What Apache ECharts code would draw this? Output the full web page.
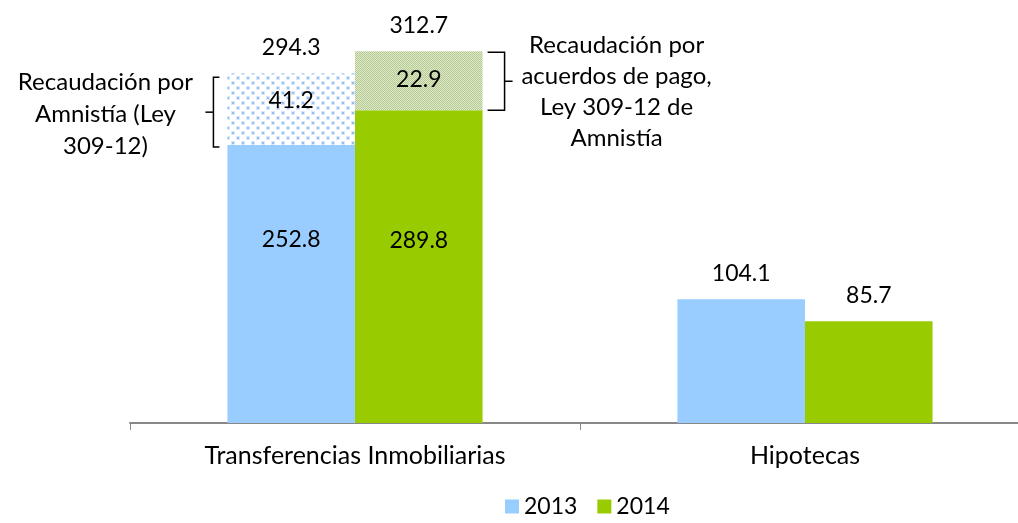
<!DOCTYPE html>
<html>
<head>
<meta charset="utf-8">
<script src="https://cdn.jsdelivr.net/npm/echarts@6/dist/echarts.min.js"></script>
<style>
html,body{margin:0;padding:0;background:#fff;}
#chart{width:1018px;height:523px;}
</style>
</head>
<body>
<div id="chart"></div>
<script>
// ---- data ----
const categories = ['Transferencias Inmobiliarias', 'Hipotecas'];
const years = ['2013', '2014'];
// bar heights as drawn in the picture
const base2013 = [233.8, 104.1];
const amnesty2013 = [60.5, '-'];
const base2014 = [263.2, 85.7];
const amnesty2014 = [49.5, '-'];
// printed labels
const baseLabels2013 = ['252.8', '104.1'];
const baseLabels2014 = ['289.8', '85.7'];
const amnestyLabels2013 = ['41.2', ''];
const amnestyLabels2014 = ['22.9', ''];
const totalLabels2013 = ['294.3', ''];
const totalLabels2014 = ['312.7', ''];
const noteLeft = 'Recaudación por\nAmnistía (Ley\n309-12)';
const noteRight = 'Recaudación por\nacuerdos de pago,\nLey 309-12 de\nAmnistía';

const FONT = 'Lato';
const FS = 23;
const FS_TEXT = 25;
const FS_NOTE = 24;
const BLUE = '#99ccff';
const GREEN = '#99cc00';

function makePattern(kind){
  const c = document.createElement('canvas');
  const ctx = c.getContext('2d');
  if(kind === 'dots'){
    c.width = 10; c.height = 10;
    ctx.fillStyle = '#ffffff'; ctx.fillRect(0,0,10,10);
    const dot = (x,y)=>{
      ctx.fillStyle = '#d9e8fb'; ctx.fillRect(x-1,y-1,4,4);
      ctx.fillStyle = '#93bff1'; ctx.fillRect(x,y,2,2);
    };
    dot(2,2); dot(7,7);
  } else {
    c.width = 2; c.height = 2;
    ctx.fillStyle = '#dde8cc'; ctx.fillRect(0,0,2,2);
    ctx.fillStyle = '#b6cb90'; ctx.fillRect(0,0,1,1); ctx.fillRect(1,1,1,1);
  }
  return {image: c, repeat: 'repeat'};
}

const labelBase = {color:'#000', fontFamily: FONT, fontSize: FS};

function baseData(vals, labels, insideOffset){
  return vals.map((v,i)=>{
    if(i === 0){
      return {value:v, label:{show:true, position:'inside', offset:[0, insideOffset], formatter:()=>labels[i], ...labelBase}};
    }
    return {value:v, label:{show:true, position:'top', distance:14, formatter:()=>labels[i], ...labelBase}};
  });
}

const chart = echarts.init(document.getElementById('chart'), null, {renderer:'canvas'});
const option = {
  animation:false,
  backgroundColor:'#fff',
  grid:{left:130, width:900, top:7, bottom:100, containLabel:false, outerBoundsMode:'none'},
  legend:{
    data: years,
    left: 500, bottom: 0,
    icon:'rect', itemWidth:14, itemHeight:14, itemGap:20,
    textStyle:{color:'#000', fontFamily:FONT, fontSize:FS}
  },
  xAxis:{
    type:'category', data:categories,
    axisLine:{lineStyle:{color:'#888', width:2}},
    axisTick:{show:true, length:7, lineStyle:{color:'#888', width:1}},
    axisLabel:{color:'#000', fontFamily:FONT, fontSize:FS_TEXT, margin:20}
  },
  yAxis:{type:'value', min:0, max:350, show:false, splitLine:{show:false}},
  series:[
    {name:'2013', type:'bar', stack:'a', barGap:0, barCategoryGap:'43.3%',
     itemStyle:{color:BLUE}, data: baseData(base2013, baseLabels2013, -44)},
    {name:'Amnistía 2013', type:'bar', stack:'a',
     itemStyle:{color:makePattern('dots')},
     label:{show:true, position:'inside', offset:[0,-9], formatter:p=>amnestyLabels2013[p.dataIndex], ...labelBase},
     data: amnesty2013},
    {name:'Total 2013', type:'bar', stack:'a',
     itemStyle:{color:'rgba(0,0,0,0)'},
     label:{show:true, position:'top', distance:14, formatter:p=>totalLabels2013[p.dataIndex], ...labelBase},
     data: totalLabels2013.map(t=> t ? 0 : '-')},
    {name:'2014', type:'bar', stack:'b',
     itemStyle:{color:GREEN}, data: baseData(base2014, baseLabels2014, -26.5)},
    {name:'Amnistía 2014', type:'bar', stack:'b',
     itemStyle:{color:makePattern('check')},
     label:{show:true, position:'inside', offset:[0,-1], formatter:p=>amnestyLabels2014[p.dataIndex], ...labelBase},
     data: amnesty2014},
    {name:'Total 2014', type:'bar', stack:'b',
     itemStyle:{color:'rgba(0,0,0,0)'},
     label:{show:true, position:'top', distance:14, formatter:p=>totalLabels2014[p.dataIndex], ...labelBase},
     data: totalLabels2014.map(t=> t ? 0 : '-')}
  ]
};
chart.setOption(option);

// brackets and notes placed from the bars' layouts
function rectOf(si, di){
  const l = chart.getModel().getSeriesByIndex(si).getData().getItemLayout(di);
  const y1 = Math.min(l.y, l.y + l.height), y2 = Math.max(l.y, l.y + l.height);
  return {x:l.x, w:l.width, y1, y2};
}
const rl = rectOf(1, 0);
const rr = rectOf(4, 0);
const bx = rl.x - 14, lt = rl.y1 + 4, lb = rl.y2 + 2, lm = (lt+lb)/2;
const rx = rr.x + rr.w + 22, rt = rr.y1 + 1, rb = rr.y2, rm = (rt+rb)/2;
const stroke = {stroke:'#000', lineWidth:1.5, fill:null};
chart.setOption({
  graphic:[
    {type:'polyline', shape:{points:[[bx+6,lt],[bx,lt],[bx,lb],[bx+6,lb]]}, style:stroke},
    {type:'line', shape:{x1:bx-8,y1:lm,x2:bx,y2:lm}, style:stroke},
    {type:'polyline', shape:{points:[[rx-17,rt],[rx,rt],[rx,rb],[rx-17,rb]]}, style:stroke},
    {type:'line', shape:{x1:rx,y1:rm,x2:rx+8,y2:rm}, style:stroke},
    {type:'text', x:bx-108, y:lm+2, style:{text:noteLeft, textAlign:'center', textVerticalAlign:'middle', font:FS_NOTE+'px '+FONT, lineHeight:32, fill:'#000'}},
    {type:'text', x:rx+112, y:rm+11, style:{text:noteRight, textAlign:'center', textVerticalAlign:'middle', font:FS_NOTE+'px '+FONT, lineHeight:31, fill:'#000'}}
  ]
});
</script>
</body>
</html>
